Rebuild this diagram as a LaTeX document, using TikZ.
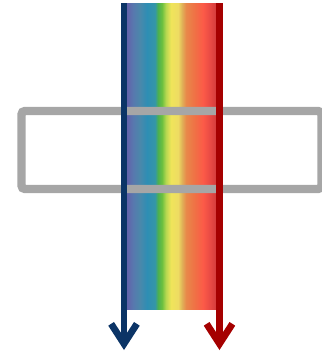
\documentclass[tikz,border=0pt]{standalone}
\usetikzlibrary{arrows.meta}

% spectrum colours, left (blue) to right (red)
\definecolor{specA}{HTML}{6262AA}
\definecolor{specB}{HTML}{5878AE}
\definecolor{specC}{HTML}{4A88AB}
\definecolor{specD}{HTML}{2E8EB4}
\definecolor{specE}{HTML}{3496A8}
\definecolor{specF}{HTML}{4CB050}
\definecolor{specG}{HTML}{6CC040}
\definecolor{specH}{HTML}{B8D850}
\definecolor{specI}{HTML}{F0E45A}
\definecolor{specJ}{HTML}{EEDC62}
\definecolor{specK}{HTML}{E0B058}
\definecolor{specL}{HTML}{E8884A}
\definecolor{specM}{HTML}{F07045}
\definecolor{specN}{HTML}{FC5A48}
\definecolor{specO}{HTML}{E84A44}
\definecolor{specP}{HTML}{D43C3C}
\definecolor{rayblue}{HTML}{0B3466}
\definecolor{rayred}{HTML}{A50000}
\definecolor{framegray}{HTML}{A6A6A6}

\pgfdeclarehorizontalshading{spectrum}{100bp}{%
  color(0bp)=(specA); color(25bp)=(specA); color(26.6bp)=(specA);
  color(29.7bp)=(specB); color(33.4bp)=(specC); color(37bp)=(specD);
  color(41.2bp)=(specE); color(42.8bp)=(specF); color(44.9bp)=(specG);
  color(47bp)=(specH); color(49.6bp)=(specI); color(53.3bp)=(specJ);
  color(55.4bp)=(specK); color(57.5bp)=(specL); color(62.2bp)=(specM);
  color(66.4bp)=(specN); color(70bp)=(specO); color(73.2bp)=(specP);
  color(75bp)=(specP); color(100bp)=(specP)}

\tikzset{
  frame/.style={draw=framegray, line width=7.2pt, rounded corners=3pt},
  ray/.style={line width=5.8pt,
    -{Straight Barb[length=17pt, width=22pt]}},
}

\begin{document}
\begin{tikzpicture}[x=0.03cm, y=-0.03cm]
        \useasboundingbox (0,0) rectangle (322,353);
        \clip (0,0) rectangle (322,353);

        % Spectrum band between the two rays
        \shade[shading=spectrum] (124,3) rectangle (219.5,309);

        % Glass plate, drawn over the band
        \draw[frame] (21.5,111) rectangle (321.5,189);

        % Ends of the two rays
        \coordinate (blue top) at (124,3);
        \coordinate (blue end) at (124,350);
        \coordinate (red top) at (219.5,3);
        \coordinate (red end) at (219.5,350);

        % Blue and red rays
        \draw[ray, rayblue] (blue top) -- (blue end);
        \draw[ray, rayred] (red top) -- (red end);
    \end{tikzpicture}
\end{document}
